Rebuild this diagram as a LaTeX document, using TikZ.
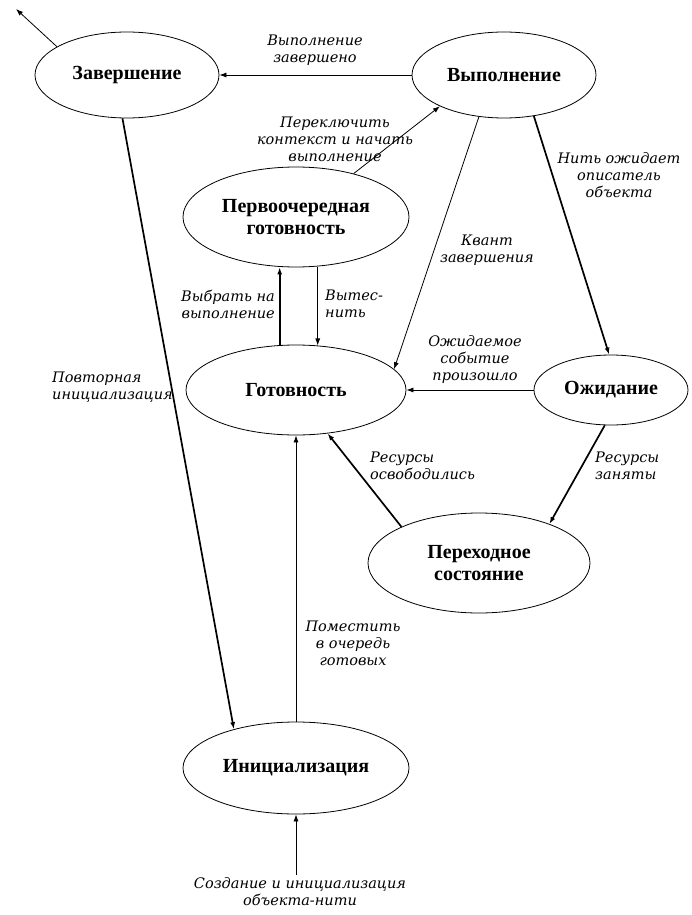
\documentclass[tikz,border=0pt]{standalone}
\usepackage{fontspec}
\usepackage{tikz}
\usetikzlibrary{shapes,arrows.meta,positioning}
\newfontfamily\lserif{Liberation Serif}
\newfontfamily\dserif{DejaVu Serif}
\newcommand\statefont{\lserif\bfseries\fontsize{20}{22}\selectfont}
\newcommand\lblfont{\dserif\itshape\fontsize{14.5}{17}\selectfont}

\begin{document}
\begin{tikzpicture}[
    x=1pt, y=-1pt,
    state/.style={
        ellipse, draw,
        line width=0.8pt,
        inner sep=0pt,
        align=center,
        font=\statefont
    },
    lbl/.style={
        align=center,
        inner sep=0pt,
        font=\lblfont
    },
    arr/.style={-{Latex[length=7pt,width=5pt]}, line width=0.8pt},
    heavy/.style={arr, line width=1.7pt}
]
\useasboundingbox (0,0) rectangle (691,915);

% states
\node[state, minimum width=184pt, minimum height=86pt] (zav) at (127,75) {Завершение};
\node[state, minimum width=184pt, minimum height=86pt] (vyp) at (504,75) {Выполнение};
\node[state, minimum width=226pt, minimum height=100pt] (perv) at (296,217) {Первоочередная\\готовность};
\node[state, minimum width=220pt, minimum height=90pt] (gotov) at (296,390) {Готовность};
\node[state, minimum width=154pt, minimum height=70pt] (ozhid) at (611,390) {Ожидание};
\node[state, minimum width=222pt, minimum height=100pt] (perekh) at (479,563) {Переходное\\состояние};
\node[state, minimum width=226pt, minimum height=92pt] (inic) at (296,768) {Инициализация};

\coordinate (exitpt) at (16,9);
\coordinate (create) at (296,875);

% transitions
\draw[arr] (zav.158) -- (exitpt);
\draw[arr] (vyp.west) -- (zav.east);
\draw[arr] (perv.37) -- (vyp.206);
\draw[heavy] (gotov.110) -- (gotov.110 |- perv.south);
\draw[arr] (gotov.64 |- perv.south) -- (gotov.64);
\draw[arr] (vyp.-121) -- (gotov.12);
\draw[heavy] (vyp.-54) -- (ozhid.93);
\draw[arr] (ozhid.west) -- (gotov.east);
\draw[heavy] (ozhid.-100) -- (perekh.29);
\draw[heavy] (perekh.155) -- (gotov.-54);
\draw[heavy] (zav.-96) -- (inic.148);
\draw[arr] (inic.north) -- (gotov.south);
\draw[arr] (create) -- (inic.south);

% labels
\node[lbl] (lzav) at (315,50) {Выполнение\\завершено};
\node[lbl] (lpere) at (335,139) {Переключить\\контекст и начать\\выполнение};
\node[lbl, align=right, anchor=east] (lvybr) at (275,304) {Выбрать на\\выполнение};
\node[lbl, align=left, anchor=west] (lvyt) at (325,304) {Вытес-\\нить};
\node[lbl] (lkvant) at (487,250) {Квант\\завершения};
\node[lbl] (lnit) at (619,175) {Нить ожидает\\описатель\\объекта};
\node[lbl] (lsob) at (475,359) {Ожидаемое\\событие\\произошло};
\node[lbl, align=left, anchor=west] (losv) at (370,466) {Ресурсы\\освободились};
\node[lbl, align=left, anchor=west] (lzan) at (595,466) {Ресурсы\\заняты};
\node[lbl, align=left, anchor=west] (lpovt) at (52,387) {Повторная\\инициализация};
\node[lbl] (lpom) at (353,643) {Поместить\\в очередь\\готовых};
\node[lbl, anchor=north] (lsozd) at (300,877) {Создание и инициализация\\объекта-нити};
\end{tikzpicture}
\end{document}
